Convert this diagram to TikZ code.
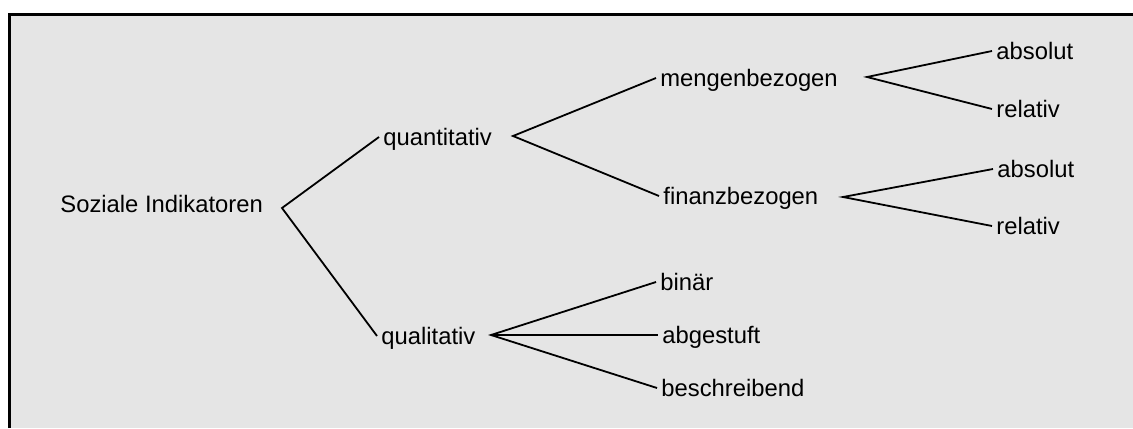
\documentclass[tikz,border=0pt]{standalone}
\usepackage{fontspec}
\setmainfont{Liberation Sans}
\definecolor{panelgray}{HTML}{E5E5E5}
\tikzset{
  item/.style={anchor=west, inner xsep=2pt, inner ysep=0pt,
    text height=8.5pt, text depth=0pt, font=\fontsize{11.9}{14}\selectfont},
  branch/.style={line width=0.9pt, line join=miter}
}
\begin{document}
\begin{tikzpicture}[x=0.5pt,y=-0.5pt]
\useasboundingbox (0,0) rectangle (1133,428);

% panel
\fill[panelgray] (9,14) rectangle (1133,428);
\draw[line width=1.5pt] (9,428) -- (9,14) -- (1133,14);

% nodes
\node[item] (root) at (56,204) {Soziale Indikatoren};
\node[item] (quant) at (379,137) {quantitativ};
\node[item] (qual) at (377,336) {qualitativ};
\node[item] (menge) at (656,78) {mengenbezogen};
\node[item] (finanz) at (659,196) {finanzbezogen};
\node[item] (absA) at (992,51) {absolut};
\node[item] (relA) at (992,109) {relativ};
\node[item] (absB) at (993,169) {absolut};
\node[item] (relB) at (992,226) {relativ};
\node[item] (binaer) at (656,282) {binär};
\node[item] (stufe) at (658,335) {abgestuft};
\node[item] (beschr) at (657,388) {beschreibend};

% junctions
\coordinate (jroot) at (282,208);
\coordinate (jquant) at (513,136);
\coordinate (jqual) at (491,335);
\coordinate (jmenge) at (867,77);
\coordinate (jfinanz) at (843,197);

% branches
\draw[branch] (quant.west) -- (jroot) -- (qual.west);
\draw[branch] (menge.west) -- (jquant) -- (finanz.west);
\draw[branch] (absA.west) -- (jmenge) -- (relA.west);
\draw[branch] (absB.west) -- (jfinanz) -- (relB.west);
\draw[branch] (binaer.west) -- (jqual) -- (beschr.west);
\draw[branch] (jqual) -- (stufe.west);

\end{tikzpicture}
\end{document}
